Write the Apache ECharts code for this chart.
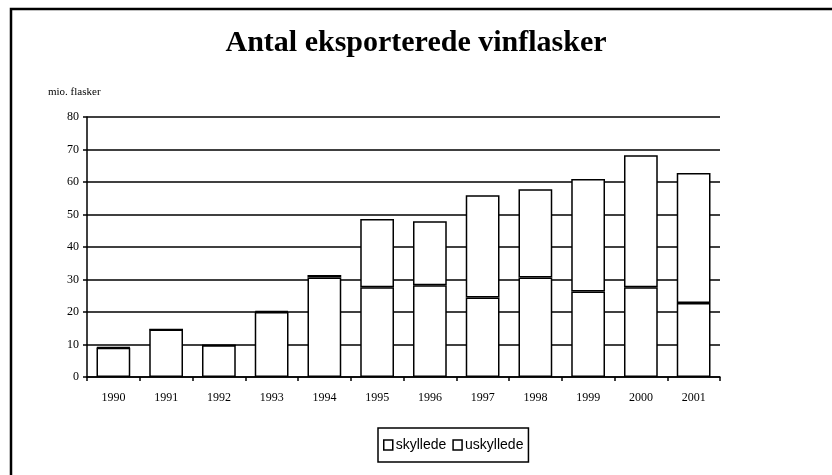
<!DOCTYPE html>
<html>
<head>
<meta charset="utf-8">
<script src="https://cdn.jsdelivr.net/npm/echarts@6/dist/echarts.min.js"></script>
<style>
  html, body { margin: 0; padding: 0; background: #fff; }
  #chart { width: 832px; height: 475px; }
</style>
</head>
<body>
<div id="chart"></div>
<script>
const years = ['1990', '1991', '1992', '1993', '1994', '1995', '1996', '1997', '1998', '1999', '2000', '2001']
// mio. flasker
const skyllede = [9.0, 14.6, 9.8, 20.0, 30.6, 27.6, 28.2, 24.5, 30.6, 26.3, 27.6, 22.8]
const uskyllede = [0.2, 0, 0, 0.3, 0.8, 21.0, 19.7, 31.4, 27.2, 34.6, 40.6, 40.0]

const serif = '"Liberation Serif", "DejaVu Serif", serif'
const sans = '"Liberation Sans", Arial, sans-serif'

const chart = echarts.init(document.getElementById('chart'), null, { renderer: 'canvas' })

const barStyle = { color: '#fff', borderColor: '#000', borderWidth: 1.5 }

chart.setOption({
  animation: false,
  backgroundColor: '#fff',
  title: {
    text: 'Antal eksporterede vinflasker',
    left: 'center',
    top: 23,
    textStyle: { fontFamily: serif, fontWeight: 'bold', fontSize: 30, color: '#000' }
  },
  graphic: [
    {
      type: 'rect',
      shape: { x: 11, y: 9, width: 900, height: 600 },
      style: { fill: 'none', stroke: '#000', lineWidth: 2.5 },
      silent: true
    },
    {
      type: 'text',
      left: 48,
      top: 87,
      style: { text: 'mio. flasker', font: '11px ' + serif, fill: '#000' }
    }
  ],
  legend: {
    left: 378,
    top: 428,
    icon: 'rect',
    itemWidth: 9,
    itemHeight: 10,
    itemGap: 6,
    padding: [10, 5, 10, 5],
    borderColor: '#000',
    borderWidth: 1.5,
    textStyle: { fontFamily: sans, fontSize: 14, color: '#000', padding: [0, 0, 0, -2] },
    itemStyle: { color: '#fff', borderColor: '#000', borderWidth: 1.5 },
    data: ['skyllede', 'uskyllede']
  },
  grid: { left: 87, right: 112, top: 117, bottom: 98 },
  xAxis: {
    type: 'category',
    data: years,
    axisLine: { lineStyle: { color: '#000', width: 1.5 } },
    axisTick: { show: true, length: 4, lineStyle: { color: '#000', width: 1.5 } },
    axisLabel: { color: '#000', fontFamily: serif, fontSize: 12, margin: 15 }
  },
  yAxis: {
    type: 'value',
    min: 0,
    max: 80,
    interval: 10,
    axisLine: { show: true, lineStyle: { color: '#000', width: 1.5 } },
    axisTick: { show: true, length: 4, lineStyle: { color: '#000', width: 1.5 } },
    axisLabel: { color: '#000', fontFamily: serif, fontSize: 12, margin: 8 },
    splitLine: { show: true, lineStyle: { color: '#000', width: 1.5 } }
  },
  series: [
    {
      name: 'skyllede',
      type: 'bar',
      stack: 'total',
      barWidth: '64%',
      itemStyle: barStyle,
      data: skyllede
    },
    {
      name: 'uskyllede',
      type: 'bar',
      stack: 'total',
      barWidth: '64%',
      itemStyle: barStyle,
      data: uskyllede
    }
  ]
})
</script>
</body>
</html>
